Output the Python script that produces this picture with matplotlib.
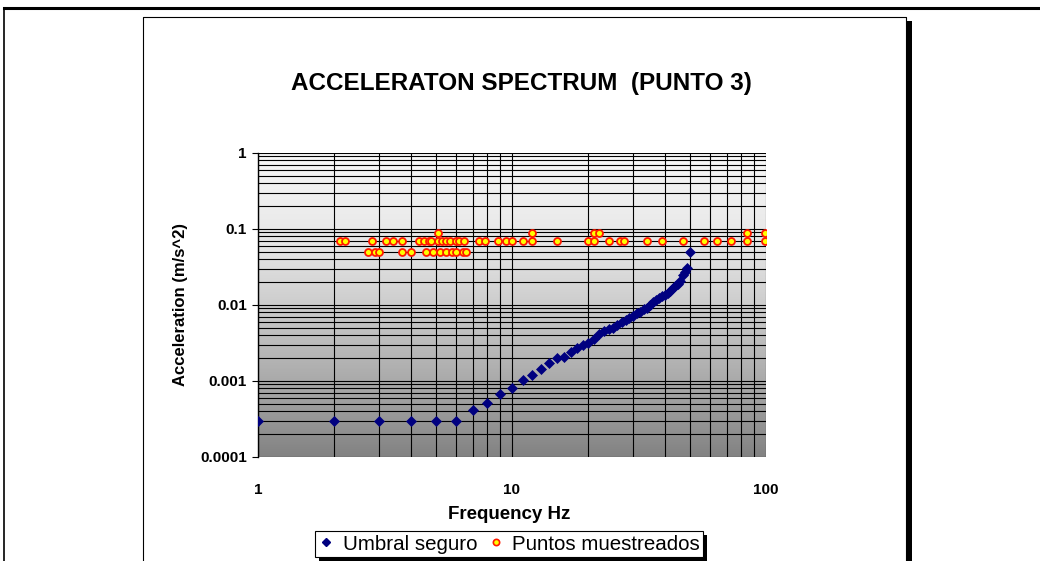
import numpy as np
import matplotlib
matplotlib.use('Agg')
import matplotlib.pyplot as plt
from matplotlib.lines import Line2D
from matplotlib.patches import Rectangle
from matplotlib.colors import LinearSegmentedColormap
from matplotlib.ticker import FixedLocator, FixedFormatter, NullFormatter

plt.rcParams['font.family'] = ['Liberation Sans', 'DejaVu Sans']

# Umbral seguro (frequency Hz, acceleration m/s^2)
umbral_freq = list(range(1, 51))
umbral_acc = [0.0003, 0.0003, 0.0003, 0.0003, 0.0003, 0.0003, 0.00041, 0.00052, 0.00068, 0.00082,
              0.00102, 0.0012, 0.00145, 0.0017, 0.002, 0.0021, 0.0024, 0.0027, 0.003, 0.0032,
              0.0036, 0.0042, 0.0046, 0.0048, 0.005, 0.0055, 0.006, 0.0063, 0.0067, 0.0072,
              0.0078, 0.0082, 0.0088, 0.0092, 0.01, 0.011, 0.0118, 0.0125, 0.013, 0.0135,
              0.0145, 0.0155, 0.0165, 0.0178, 0.019, 0.021, 0.025, 0.027, 0.031, 0.05]

# Puntos muestreados
puntos_freq = [2.1, 2.2, 2.8, 3.2, 3.4, 3.7, 4.3, 4.5, 4.7, 4.8, 5.1, 5.3, 5.5, 5.7, 6.0, 6.2, 6.5,
               7.4, 7.8, 8.8, 9.5, 10, 11, 12, 15, 20, 21, 24, 26.5, 27.5, 34, 39, 47, 57, 64, 73, 84, 99,
               2.7, 2.9, 3.0, 3.7, 4.0, 4.6, 4.9, 5.2, 5.5, 5.8, 6.0, 6.4, 6.6,
               5.1, 12, 21, 22, 84, 99]
puntos_acc = [0.07] * 38 + [0.05] * 13 + [0.088] * 6

x_ticks = [1, 10, 100]
x_labels = ['1', '10', '100']
y_ticks = [0.0001, 0.001, 0.01, 0.1, 1]
y_labels = ['0.0001', '0.001', '0.01', '0.1', '1']

W, H = 1040, 561
def fx(x):
    return x / W
def fy(y):
    return 1 - y / H

fig = plt.figure(figsize=(10.4, 5.61), dpi=100, facecolor='white')

# frames
fig.add_artist(Line2D([fx(4), 1], [fy(8), fy(8)], color='black', lw=2.2))
fig.add_artist(Line2D([fx(4), fx(4)], [fy(8), 0], color='black', lw=1.2))
fig.add_artist(Rectangle((fx(907), 0), 5 / W, fy(21), color='black', lw=0))
fig.add_artist(Line2D([fx(143), fx(143), fx(906), fx(906)], [0, fy(17), fy(17), 0],
                      color='black', lw=0.8))

ax = fig.add_axes([fx(258), fy(457), (766 - 258) / W, (457 - 153) / H])
ax.set_xscale('log')
ax.set_yscale('log')

grad = np.linspace(0, 1, 256).reshape(-1, 1)
cmap = LinearSegmentedColormap.from_list('bg', [(0, '#f8f8f8'), (0.3, '#e6e6e6'), (0.55, '#c6c6c6'),
                                                (0.82, '#a0a0a0'), (1, '#828282')])
ax.imshow(grad, cmap=cmap, extent=[0, 1, 0, 1], transform=ax.transAxes, aspect='auto', zorder=0)

ax.plot(umbral_freq, umbral_acc, 'D', color='#000080', ms=4.8, mec='#000080', mew=0.5, ls='none', zorder=3)
ax.plot(puntos_freq, puntos_acc, 'o', mfc='#ffff00', mec='#ff1a00', ms=5, mew=1.3, ls='none', zorder=4)

ax.set_xlim(1, 100)
ax.set_ylim(0.0001, 1)

ax.xaxis.set_major_locator(FixedLocator(x_ticks))
ax.xaxis.set_major_formatter(FixedFormatter(x_labels))
ax.xaxis.set_minor_locator(FixedLocator([2, 3, 4, 5, 6, 7, 8, 9, 20, 30, 40, 50, 60, 70, 80, 90]))
ax.xaxis.set_minor_formatter(NullFormatter())
ax.yaxis.set_major_locator(FixedLocator(y_ticks))
ax.yaxis.set_major_formatter(FixedFormatter(y_labels))
ax.yaxis.set_minor_locator(FixedLocator([m * 10.0 ** e for e in range(-4, 0) for m in range(2, 10)]))
ax.yaxis.set_minor_formatter(NullFormatter())

ax.grid(which='both', color='black', lw=0.8)
ax.tick_params(axis='x', which='both', length=0, pad=19, labelsize=11)
ax.tick_params(axis='y', which='major', length=4, width=0.8, pad=4, labelsize=11)
ax.tick_params(axis='y', which='minor', length=0)
for lab in ax.get_xticklabels() + ax.get_yticklabels():
    lab.set_fontweight('bold')
for s in ['top', 'right', 'bottom']:
    ax.spines[s].set_visible(False)
ax.spines['left'].set_color('black')
ax.spines['left'].set_linewidth(1.0)

ax.set_xlabel('Frequency Hz', fontsize=13.5, fontweight='bold', va='center')
ax.xaxis.set_label_coords(0.494, -0.19)
ax.set_ylabel('Acceleration (m/s^2)', fontsize=12, fontweight='bold', va='center')
ax.yaxis.set_label_coords(-0.1535, 0.5)

fig.text(fx(521), fy(84), 'ACCELERATON SPECTRUM  (PUNTO 3)', ha='center', va='center',
         fontsize=17.5, fontweight='bold')

# legend box with shadow
fig.add_artist(Rectangle((fx(319), fy(561)), (703 - 315) / W, (557 - 531) / H, color='black', lw=0))
fig.add_artist(Rectangle((fx(315), fy(557)), (703 - 315) / W, (557 - 531) / H,
                         facecolor='white', edgecolor='black', lw=0.8))
handles = [Line2D([], [], marker='D', color='#000080', ls='none', ms=4.5),
           Line2D([], [], marker='o', mfc='#ffff00', mec='#ff1a00', mew=1.2, ls='none', ms=4.5)]
fig.legend(handles, ['Umbral seguro', 'Puntos muestreados'], loc='center', ncol=2, frameon=False,
           bbox_to_anchor=(fx(510), fy(544)), fontsize=14.8, handlelength=0.6, handletextpad=0.5,
           columnspacing=0.6, borderpad=0)

fig.savefig('out.png', dpi=100, facecolor='white')
